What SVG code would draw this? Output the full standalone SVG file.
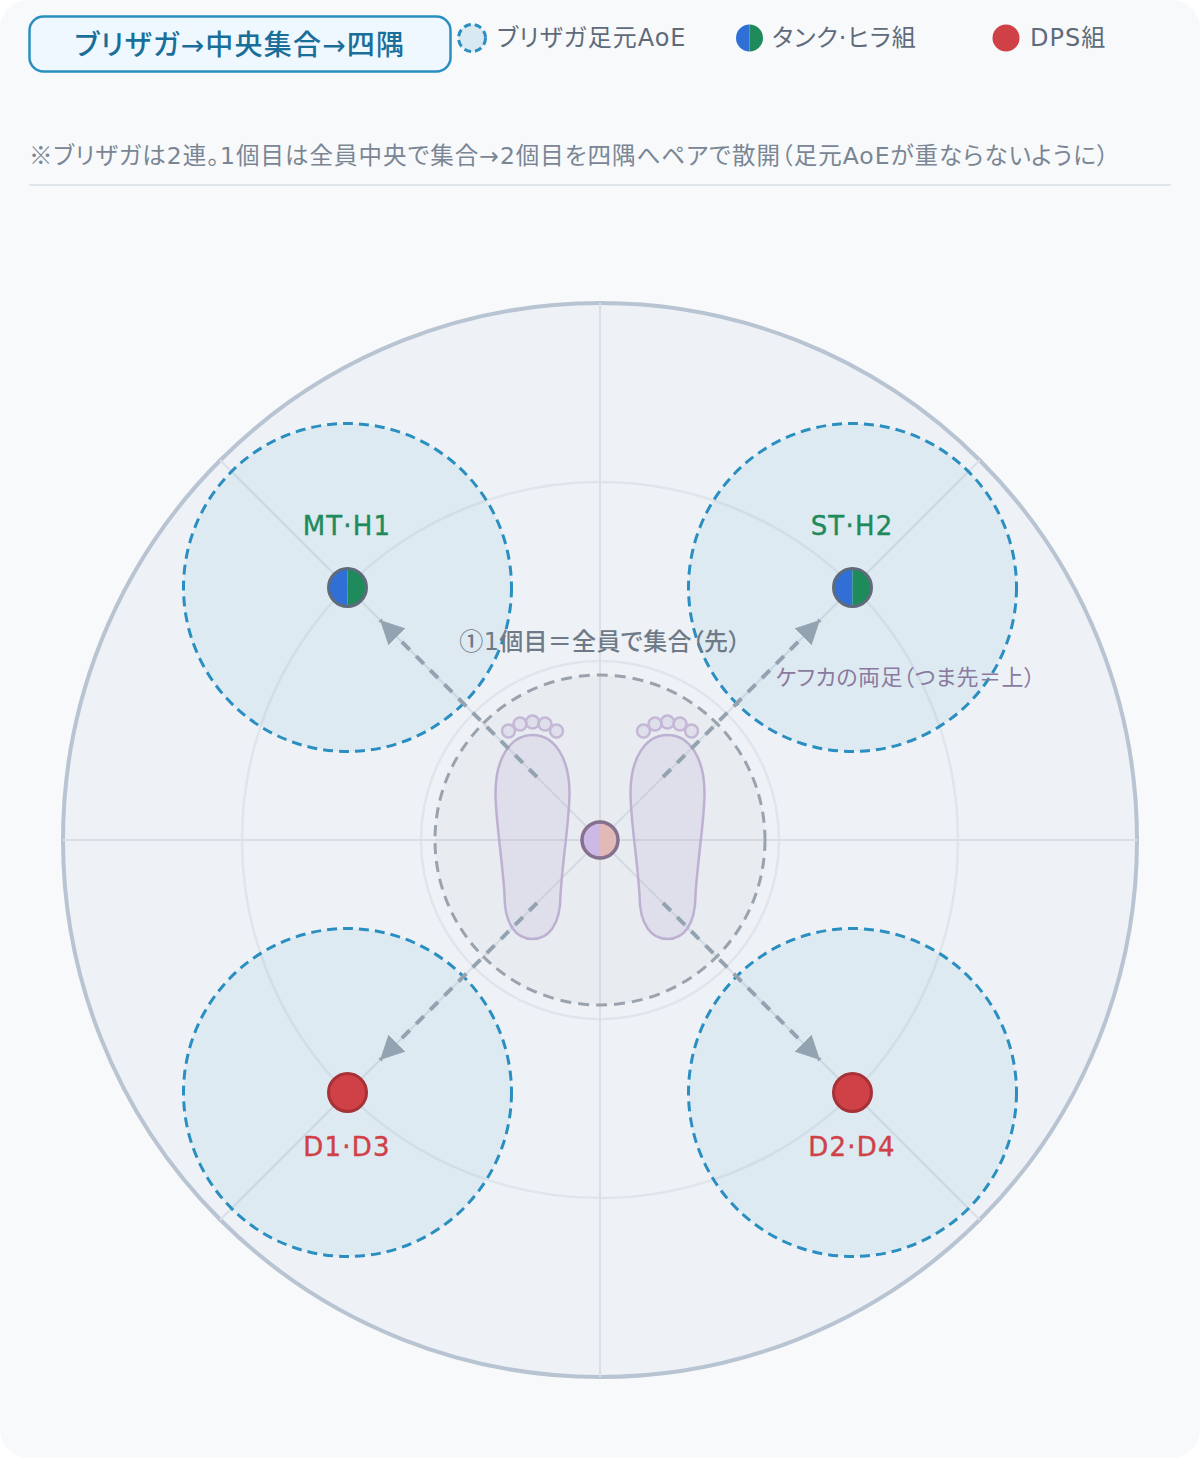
<svg xmlns="http://www.w3.org/2000/svg" width="1200" height="1458" viewBox="0 0 1200 1458">
  <style>
    text { font-family: "DejaVu Sans", "Noto Sans CJK JP", sans-serif; font-feature-settings: "palt"; }
    .cjk { font-family: "Noto Sans CJK JP", sans-serif; font-feature-settings: normal; }
    .legend { font-size: 24px; fill: #5f6b7a; letter-spacing: 1px; }
    .spoke { stroke: #d8dfe8; stroke-width: 2; fill: none; }
    .ring { stroke: #e0e5ec; stroke-width: 2.5; fill: none; }
    .aoe { fill: #2a8aae; fill-opacity: .08; stroke: #2a8fc0; stroke-width: 3; stroke-dasharray: 10 6; }
    .move { stroke: #94a3b1; stroke-width: 4; stroke-dasharray: 11 9; fill: none; marker-end: url(#head); }
    .foot { fill: #b9a8d0; fill-opacity: .18; stroke: #bdb0d0; stroke-width: 2.5; }
    .toe { fill: #b9a8d0; fill-opacity: .18; stroke: #c5b8d6; stroke-width: 2.5; }
    .pair { font-size: 26px; text-anchor: middle; letter-spacing: 1.2px; stroke-width: .4px; }
    .tank { fill: #1f8a5c; stroke: #1f8a5c; }
    .dps { fill: #cf4146; stroke: #cf4146; }
    .ring-tank { stroke: #5f6b7a; stroke-width: 3; fill: none; }
    .ring-dps { fill: #cf4146; stroke: #a63238; stroke-width: 3; }
  </style>
  <defs>
    <marker id="head" markerUnits="userSpaceOnUse" markerWidth="26" markerHeight="24" refX="24" refY="12" orient="auto">
      <path d="M0 0L24 12L0 24Z" fill="#94a3b1"/>
    </marker>
    <path id="sole" d="M0 -105C-22 -105 -37 -82 -37 -47C-37 -20 -30 20 -28 55C-28 85 -16 99 0 99C16 99 28 85 28 55C30 20 37 -20 37 -47C37 -82 22 -105 0 -105Z"/>
    <g id="toes">
      <circle class="toe" cx="-24" cy="-109" r="6.5"/>
      <circle class="toe" cx="-12.500" cy="-116" r="6.5"/>
      <circle class="toe" cx="0" cy="-118" r="6.5"/>
      <circle class="toe" cx="12.500" cy="-116" r="6.5"/>
      <circle class="toe" cx="24" cy="-109" r="6.5"/>
    </g>
  </defs>

  <rect width="1200" height="1458" fill="#ffffff"/>
  <rect width="1200" height="1458" rx="28" fill="#f8f9fb"/>

  <g id="title">
    <rect x="29.500" y="16.500" width="421" height="55" rx="14" fill="#eff8ff" stroke="#2a8fc0" stroke-width="2.500"/>
    <text x="240" y="55" font-size="28" font-weight="500" fill="#1a6f99" text-anchor="middle" letter-spacing="1.2">ブリザガ→中央集合→四隅</text>
  </g>

  <g id="legend-aoe">
    <circle cx="472" cy="38" r="13.500" fill="#2a8fc0" fill-opacity=".15" stroke="#2a8fc0" stroke-width="3" stroke-dasharray="7 4"/>
    <text class="legend" x="497" y="46">ブリザガ足元AoE</text>
  </g>
  <g id="legend-tank">
    <path d="M749.500 24.500a13.500 13.500 0 0 0 0 27Z" fill="#2f6fd6"/>
    <path d="M749.500 24.500a13.500 13.500 0 0 1 0 27Z" fill="#1f8a5c"/>
    <text class="legend" x="772" y="46">タンク·ヒラ組</text>
  </g>
  <g id="legend-dps">
    <circle cx="1006" cy="38" r="13.500" fill="#cf4146"/>
    <text class="legend" x="1030" y="46" letter-spacing="1.5">DPS組</text>
  </g>

  <g id="note">
    <text x="29" y="163.500" font-size="23.500" fill="#7a8694" letter-spacing="1"><tspan class="cjk">※</tspan>ブリザガは2連。1個目は全員中央で集合→2個目を四隅へペアで散開（足元AoEが重ならないように）</text>
    <line x1="29.500" y1="185" x2="1170.500" y2="185" stroke="#e0e5ea" stroke-width="2"/>
  </g>

  <g id="arena">
    <circle cx="600" cy="840" r="537" fill="#eef2f7" stroke="#b8c4d2" stroke-width="4"/>
    <circle class="ring" cx="600" cy="840" r="358"/>
    <circle class="ring" cx="600" cy="840" r="179"/>
    <line class="spoke" x1="600" y1="303" x2="600" y2="1377"/>
    <line class="spoke" x1="63" y1="840" x2="1137" y2="840"/>
    <line class="spoke" x1="220" y1="460" x2="980" y2="1220"/>
    <line class="spoke" x1="980" y1="460" x2="220" y2="1220"/>
  </g>

  <g id="center-aoe">
    <circle cx="600" cy="840" r="165" fill="#8a8a8a" fill-opacity=".05" stroke="#9aa3ad" stroke-width="3" stroke-dasharray="11 7"/>
  </g>

  <g id="feet">
    <use href="#sole" class="foot" x="532.500" y="840"/>
    <use href="#toes" x="532.500" y="840"/>
    <use href="#sole" class="foot" x="667.500" y="840"/>
    <use href="#toes" x="667.500" y="840"/>
  </g>

  <g id="aoe-nw"><circle class="aoe" cx="347.500" cy="587.500" r="164"/></g>
  <g id="aoe-ne"><circle class="aoe" cx="852.500" cy="587.500" r="164"/></g>
  <g id="aoe-sw"><circle class="aoe" cx="347.500" cy="1092.500" r="164"/></g>
  <g id="aoe-se"><circle class="aoe" cx="852.500" cy="1092.500" r="164"/></g>

  <g id="connectors">
    <line class="move" x1="537" y1="777" x2="380" y2="620"/>
    <line class="move" x1="663" y1="777" x2="820" y2="620"/>
    <line class="move" x1="537" y1="903" x2="380" y2="1060"/>
    <line class="move" x1="663" y1="903" x2="820" y2="1060"/>
  </g>

  <g id="center-mark">
    <path d="M600 821.500a18.500 18.500 0 0 0 0 37Z" fill="#cdb9e6"/>
    <path d="M600 821.500a18.500 18.500 0 0 1 0 37Z" fill="#e2b9b6"/>
    <circle cx="600" cy="840" r="18" fill="none" stroke="#85708f" stroke-width="3.500"/>
    <text x="600" y="650" font-size="24" font-weight="500" fill="#6f7a88" text-anchor="middle" letter-spacing=".3"><tspan class="cjk">①</tspan>1個目＝全員で集合（先）</text>
    <text x="905.500" y="685" font-size="22" fill="#8a7a9f" text-anchor="middle" letter-spacing=".5">ケフカの両足（つま先＝上）</text>
  </g>

  <g id="mt-h1">
    <path d="M347.500 568a19.500 19.500 0 0 0 0 39Z" fill="#2f6fd6"/>
    <path d="M347.500 568a19.500 19.500 0 0 1 0 39Z" fill="#1f8a5c"/>
    <circle class="ring-tank" cx="347.500" cy="587.500" r="19"/>
    <text class="pair tank" x="347" y="535">MT·H1</text>
  </g>
  <g id="st-h2">
    <path d="M852.500 568a19.500 19.500 0 0 0 0 39Z" fill="#2f6fd6"/>
    <path d="M852.500 568a19.500 19.500 0 0 1 0 39Z" fill="#1f8a5c"/>
    <circle class="ring-tank" cx="852.500" cy="587.500" r="19"/>
    <text class="pair tank" x="852" y="535">ST·H2</text>
  </g>
  <g id="d1-d3">
    <circle class="ring-dps" cx="347.500" cy="1092.500" r="19"/>
    <text class="pair dps" x="347" y="1156">D1·D3</text>
  </g>
  <g id="d2-d4">
    <circle class="ring-dps" cx="852.500" cy="1092.500" r="19"/>
    <text class="pair dps" x="852" y="1156">D2·D4</text>
  </g>
</svg>
